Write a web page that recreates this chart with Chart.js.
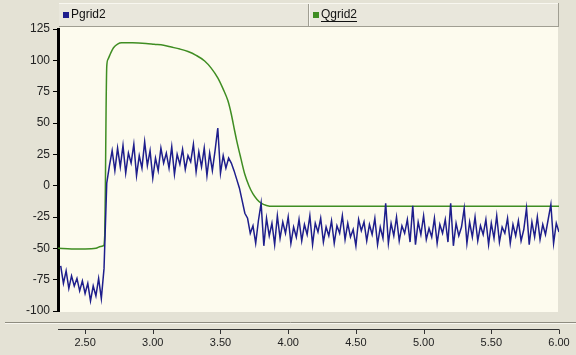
<!DOCTYPE html>
<html>
<head>
<meta charset="utf-8">
<script src="https://cdn.jsdelivr.net/npm/chart.js@4.4.0/dist/chart.umd.min.js"></script>
<style>
  html, body { margin: 0; padding: 0; background: #e4e2d5; }
  #wrap { width: 576px; height: 355px; }
</style>
</head>
<body>
<div id="wrap"><canvas id="chart" width="576" height="355"></canvas></div>
<script>
// series names and axis ticks
const seriesNames = ["Pgrid2", "Qgrid2"];
const xTickValues = [2.5, 3.0, 3.5, 4.0, 4.5, 5.0, 5.5, 6.0];
const xTickLabels = ["2.50", "3.00", "3.50", "4.00", "4.50", "5.00", "5.50", "6.00"];
const yTickValues = [-100, -75, -50, -25, 0, 25, 50, 75, 100, 125];

// Pgrid2 is sampled every 0.02 s from 2.32 s
const pgridStart = 2.32;
const pgridStep = 0.02;
const pgridValues = [
  -64, -78, -68, -82, -72, -80, -74, -84, -76, -86, -78, -92, -80, -88, -74, -90,
  -66, 2, 16,
  28, 12, 30, 15, 32, 10, 26, 18, 33, 8, 24, 14, 35, 16, 28, 6, 22, 12, 30, 18,
  26, 14, 31, 9, 25, 17, 29, 13, 24, 19, 33, 11, 27, 15, 30, 8, 26, 12, 28,
  46, 10, 24, 14, 22, 18, 12, 5, -2, -12, -22, -26, -38,
  -32, -46, -28, -14, -48, -26, -40, -30, -47, -24,
  -42, -29, -38, -25, -46, -33, -41, -27, -44, -31,
  -39, -24, -47, -30, -37, -26, -45, -33, -40, -28,
  -46, -32, -38, -24, -43, -30, -41, -35, -48, -27,
  -36, -29, -44, -31, -39, -26, -47, -33, -42, -14,
  -46, -30, -40, -25, -44, -32, -38, -27, -45, -16,
  -47, -29, -39, -24, -43, -34, -41, -26, -46, -31,
  -38, -27, -45, -14, -48, -30, -40, -33, -18, -46,
  -29, -41, -25, -44, -32, -39, -27, -47, -30, -42,
  -24, -45, -33, -38, -26, -46, -31, -40, -28, -44,
  -35, -18, -47, -29, -41, -25, -43, -31, -39, -27,
  -15, -46, -30, -37
];

// Qgrid2 read at its turning points
const qgridTime = [2.30, 2.40, 2.50, 2.58, 2.615, 2.635, 2.645, 2.650, 2.655, 2.660, 2.67, 2.69, 2.71, 2.74, 2.77,
  2.85, 2.95, 3.01, 3.08, 3.137, 3.20, 3.26, 3.32, 3.383, 3.43, 3.48, 3.52, 3.555, 3.58, 3.604, 3.62,
  3.65, 3.679, 3.71, 3.74, 3.77, 3.80, 3.84, 3.886, 6.00];
const qgridValues = [-50, -50.5, -50.5, -50, -48.5, -48, -40, 0, 60, 95, 101, 106, 110, 113, 114,
  114, 113.5, 112.8, 112, 110.6, 109, 107, 104, 99.5, 94, 86, 77, 67.7, 57, 44, 35.8,
  22, 9.3, 0, -6.6, -11, -14, -15.8, -16.5, -16.5];

const pgridPoints = pgridValues.map((v, i) => ({ x: Number((pgridStart + i * pgridStep).toFixed(2)), y: v }));
const qgridPoints = qgridValues.map((v, i) => ({ x: qgridTime[i], y: v }));

const navy = "#1e1e8c";
const green = "#3f8d22";
const labelFont = "'Liberation Sans', Arial, sans-serif";

const framePlugin = {
  id: "frame",
  beforeDraw(chart) {
    const { ctx, chartArea: a } = chart;
    ctx.save();
    ctx.fillStyle = "#e4e2d5";
    ctx.fillRect(0, 0, chart.width, chart.height);
    ctx.fillStyle = "#fdfbee";
    ctx.fillRect(a.left + 2, a.top - 2, a.right - a.left - 3, a.bottom - a.top + 3);

    // legend strip
    ctx.fillStyle = "#e9e7dc";
    ctx.fillRect(59, 3, 500, 24);
    ctx.lineWidth = 1;
    ctx.strokeStyle = "#f8f7f0";
    ctx.beginPath();
    ctx.moveTo(59, 3.5); ctx.lineTo(559, 3.5);
    ctx.moveTo(309.5, 4); ctx.lineTo(309.5, 26);
    ctx.stroke();
    ctx.strokeStyle = "#a09e92";
    ctx.beginPath();
    ctx.moveTo(59, 26.5); ctx.lineTo(559, 26.5);
    ctx.moveTo(308.5, 4); ctx.lineTo(308.5, 26);
    ctx.moveTo(558.5, 3); ctx.lineTo(558.5, 27);
    ctx.stroke();

    const cells = [{ x: 63, color: navy }, { x: 313, color: green }];
    ctx.font = "12px " + labelFont;
    ctx.textBaseline = "middle";
    ctx.textAlign = "left";
    cells.forEach((c, i) => {
      ctx.fillStyle = c.color;
      ctx.fillRect(c.x, 12, 6, 6);
      ctx.fillStyle = "#111";
      ctx.fillText(seriesNames[i], c.x + 8, 15);
      if (i === 1) {
        const w = ctx.measureText(seriesNames[i]).width;
        ctx.fillRect(c.x + 8, 21, w, 1);
      }
    });
    ctx.restore();
  },
  afterDraw(chart) {
    const { ctx, chartArea: a } = chart;
    const xs = chart.scales.x;
    ctx.save();
    ctx.lineWidth = 1;
    ctx.strokeStyle = "#8e8c80";
    ctx.beginPath();
    ctx.moveTo(5, 322.5); ctx.lineTo(576, 322.5);
    ctx.stroke();
    ctx.strokeStyle = "#f8f7f0";
    ctx.beginPath();
    ctx.moveTo(5, 323.5); ctx.lineTo(576, 323.5);
    ctx.stroke();

    ctx.strokeStyle = "#333";
    ctx.beginPath();
    ctx.moveTo(a.left, 329.5); ctx.lineTo(a.right, 329.5);
    xTickValues.forEach(v => {
      const px = Math.round(xs.getPixelForValue(v)) + 0.5;
      ctx.moveTo(px, 329.5); ctx.lineTo(px, 334);
    });
    ctx.stroke();
    ctx.restore();
  }
};

new Chart(document.getElementById("chart"), {
  type: "line",
  data: {
    datasets: [
      {
        label: seriesNames[0],
        data: pgridPoints,
        borderColor: navy,
        borderWidth: 1.5,
        pointRadius: 0,
        tension: 0
      },
      {
        label: seriesNames[1],
        data: qgridPoints,
        borderColor: green,
        borderWidth: 1.5,
        pointRadius: 0,
        cubicInterpolationMode: "monotone"
      }
    ]
  },
  options: {
    responsive: false,
    animation: false,
    devicePixelRatio: 1,
    layout: { padding: { top: 29, right: 17, left: 0, bottom: 0 } },
    plugins: {
      legend: { display: false },
      tooltip: { enabled: false }
    },
    scales: {
      x: {
        type: "linear",
        min: 2.30,
        max: 6.0,
        afterBuildTicks: s => { s.ticks = xTickValues.map(v => ({ value: v })); },
        afterFit: s => { s.height = 44; s.paddingLeft = 0; s.paddingRight = 0; },
        grid: { display: false, drawTicks: false },
        border: { display: false },
        ticks: {
          callback: (v, i) => xTickLabels[i],
          font: { family: labelFont, size: 11 },
          color: "#222",
          padding: 25,
          maxRotation: 0,
          autoSkip: false
        }
      },
      y: {
        min: -100,
        max: 125,
        afterBuildTicks: s => { s.ticks = yTickValues.map(v => ({ value: v })); },
        afterFit: s => { s.width = 58; s.paddingTop = 0; s.paddingBottom = 0; },
        grid: { drawOnChartArea: false, drawTicks: true, tickLength: 5, color: "#000", lineWidth: 1 },
        border: { display: true, width: 3, color: "#000" },
        ticks: {
          font: { family: labelFont, size: 12 },
          color: "#222",
          padding: 3
        }
      }
    }
  },
  plugins: [framePlugin]
});
</script>
</body>
</html>
